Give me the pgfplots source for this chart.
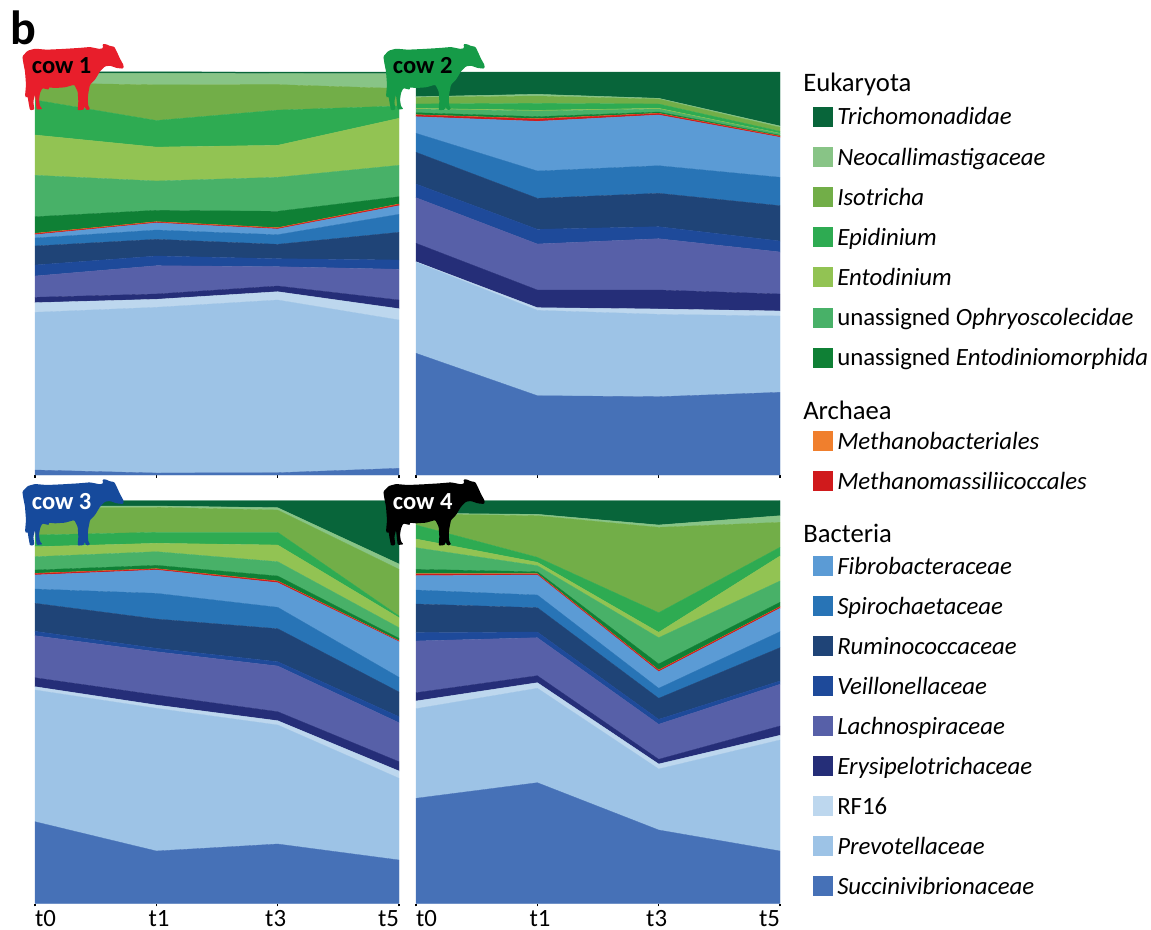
\documentclass[border=0pt]{standalone}
\usepackage{fontspec}
\setmainfont{Carlito}
\usepackage{pgfplots}
\pgfplotsset{compat=1.18}
\definecolor{cTri}{HTML}{08653A}
\definecolor{cNeo}{HTML}{88C486}
\definecolor{cIso}{HTML}{72AE48}
\definecolor{cEpi}{HTML}{2EAB52}
\definecolor{cEnt}{HTML}{92C353}
\definecolor{cOph}{HTML}{48B168}
\definecolor{cEnm}{HTML}{0F8035}
\definecolor{cMBa}{HTML}{F07F2D}
\definecolor{cMMa}{HTML}{D01A1C}
\definecolor{cFib}{HTML}{5B9BD5}
\definecolor{cSpi}{HTML}{2874B6}
\definecolor{cRum}{HTML}{1F4477}
\definecolor{cVei}{HTML}{1E4A9A}
\definecolor{cLac}{HTML}{5760A8}
\definecolor{cEry}{HTML}{252E78}
\definecolor{cRFS}{HTML}{BDD7EE}
\definecolor{cPre}{HTML}{9DC3E6}
\definecolor{cSuc}{HTML}{4671B7}
\definecolor{cowred}{HTML}{E81E2B}
\definecolor{cowgreen}{HTML}{169B48}
\definecolor{cowblue}{HTML}{164A9C}
\newcommand{\lyr}[5]{\addplot[draw=c#1,line width=0.25pt,fill=c#1] coordinates {(0,#2)(1,#3)(2,#4)(3,#5)} \closedcycle;}
\newcommand{\fs}{\fontsize{18.6}{21}\selectfont}
\newcommand{\hfs}{\fontsize{20}{23}\selectfont}
\pgfplotsset{panel/.style={
  scale only axis,width=273pt,height=302.25pt,
  xmin=0,xmax=3,ymin=0,ymax=403,
  stack plots=y,
  axis x line=bottom,axis y line=none,
  x axis line style={draw=none,-},
  xtick={0,1,2,3},
  tick align=outside,
  major tick length=2.2pt,
  tick style={black,line width=0.9pt},
  xtick pos=bottom,
  clip=false,
  x tick label style={font=\fs,inner ysep=0pt,text height=13pt,text depth=0pt,yshift=-1.6pt},
}}
\pgfplotsset{nolabels/.style={xticklabels={}}}
\pgfplotsset{labels/.style={xticklabels={\makebox[0pt][l]{t0},\hspace*{4pt}t1,\hspace*{-3pt}t3,\makebox[0pt][r]{t5}}}}
\newcommand{\cow}[5]{%
 \begin{scope}[shift={(#1,#2)},x=0.25pt,y=-0.25pt]
 \fill[#3,rounded corners=0.8pt] (22,55)--(38,38)--(60,32)--(95,35)--(140,33)--(190,30)--(225,27)--(255,33)--(265,30)--(262,18)--(272,18)--(285,24)--(298,26)--(305,40)--(315,62)--(326,82)--(325,92)--(305,90)--(285,83)--(270,85)--(255,100)--(240,125)--(225,140)--(220,165)--(218,185)--(220,205)--(226,213)--(215,217)--(208,205)--(207,215)--(188,217)--(190,190)--(188,160)--(178,140)--(150,148)--(120,150)--(100,148)--(103,155)--(92,153)--(82,150)--(75,165)--(72,185)--(75,205)--(83,213)--(65,215)--(60,170)--(55,190)--(58,215)--(45,217)--(40,190)--(38,175)--(35,180)--(30,175)--(33,140)--(30,100)--(25,75)--cycle;
 \node[text=#4,font=\bfseries\fontsize{18.4}{20}\selectfont,inner sep=0pt] at (140,84) {#5};
 \end{scope}}
\begin{document}
\begin{tikzpicture}
\path[use as bounding box] (0,0) rectangle (863.25pt,-696.75pt);
% panel values: layer thickness per time point, in parts of 403 (= whole community)
\begin{axis}[panel,nolabels,at={(26.25pt,-356.25pt)},anchor=south west]
\lyr{Suc}{5}{2}{2.3}{6.7}
\lyr{Pre}{157.7}{165.7}{172.7}{148.3}
\lyr{RFS}{9.6}{8}{8.3}{11.3}
\lyr{Ery}{5.4}{5.3}{5.7}{8.7}
\lyr{Lac}{21.3}{28.3}{19.3}{30.7}
\lyr{Vei}{11}{9.7}{8}{9.3}
\lyr{Rum}{19}{16.7}{14.4}{27.7}
\lyr{Spi}{8}{9.3}{9.6}{18}
\lyr{Fib}{3.3}{7.1}{5.7}{8.6}
\lyr{MMa}{1}{0.8}{0.9}{1.3}
\lyr{MBa}{0.4}{0.4}{0.4}{0.4}
\lyr{Enm}{16.6}{11.4}{16.4}{7.3}
\lyr{Oph}{41.4}{29.3}{34}{31.4}
\lyr{Ent}{40.3}{33.9}{32}{47}
\lyr{Epi}{35}{26.6}{35.2}{12.3}
\lyr{Iso}{17}{35.7}{25.5}{17.5}
\lyr{Neo}{9.5}{11.5}{11}{15}
\lyr{Tri}{1.5}{1.5}{1.5}{1.5}
\end{axis}
\begin{axis}[panel,nolabels,at={(312pt,-356.25pt)},anchor=south west]
\lyr{Suc}{121.7}{79.3}{78.3}{82.7}
\lyr{Pre}{91}{85.4}{82.4}{76.3}
\lyr{RFS}{0.6}{2.6}{5.3}{5}
\lyr{Ery}{18.4}{17.7}{19}{17}
\lyr{Lac}{45.6}{46}{51.3}{42}
\lyr{Vei}{13.7}{14.7}{12}{11}
\lyr{Rum}{31.7}{31}{33.4}{35.3}
\lyr{Spi}{19}{27.3}{27.6}{28.4}
\lyr{Fib}{16.6}{49.7}{50.7}{40}
\lyr{MMa}{1.7}{2.3}{1.4}{1}
\lyr{MBa}{0.3}{0.3}{0.3}{0.3}
\lyr{Enm}{2}{2}{1.3}{0.7}
\lyr{Oph}{3.7}{5.7}{3}{1.6}
\lyr{Ent}{0.7}{0.7}{0.7}{0.4}
\lyr{Epi}{4.3}{7}{4.3}{2}
\lyr{Iso}{6.7}{7.3}{5}{4}
\lyr{Neo}{0.6}{1.7}{0.7}{1.3}
\lyr{Tri}{24.7}{22.3}{26.3}{54}
\end{axis}
\begin{axis}[panel,labels,at={(26.25pt,-677.625pt)},anchor=south west]
\lyr{Suc}{81.8}{52.5}{59.5}{43.5}
\lyr{Pre}{131.7}{142.7}{119}{81.7}
\lyr{RFS}{3.3}{3.3}{4.3}{7.3}
\lyr{Ery}{9}{10}{9}{9.3}
\lyr{Lac}{42}{43.3}{45.7}{39}
\lyr{Vei}{4.4}{3.4}{4.3}{6}
\lyr{Rum}{28}{29.3}{33}{24.7}
\lyr{Spi}{14.3}{25.7}{21.4}{14.7}
\lyr{Fib}{14}{23.3}{24.6}{35.6}
\lyr{MMa}{1.4}{1}{1.4}{0.7}
\lyr{MBa}{0.3}{0.3}{0.3}{0.3}
\lyr{Enm}{3.3}{3.4}{5}{2.4}
\lyr{Oph}{13.3}{13.6}{14.3}{10.6}
\lyr{Ent}{10}{8.4}{16.7}{10}
\lyr{Epi}{11.7}{11}{12.7}{1.7}
\lyr{Iso}{27.7}{25}{22.3}{46.7}
\lyr{Neo}{1.3}{1.3}{2.3}{5.3}
\lyr{Tri}{5.5}{5.5}{7.2}{63.5}
\end{axis}
\begin{axis}[panel,labels,at={(312pt,-677.625pt)},anchor=south west]
\lyr{Suc}{105.2}{120.8}{73.5}{52.5}
\lyr{Pre}{89.6}{94.4}{61}{111}
\lyr{RFS}{7.7}{5.6}{5}{4.7}
\lyr{Ery}{8.3}{7}{4.7}{9.3}
\lyr{Lac}{51.7}{38}{35}{41.7}
\lyr{Vei}{8.3}{5.7}{5}{3.3}
\lyr{Rum}{28.7}{24.3}{21}{33.3}
\lyr{Spi}{14}{12.7}{10}{16}
\lyr{Fib}{14.3}{20}{16.6}{23.4}
\lyr{MMa}{1.7}{1}{1.4}{1.3}
\lyr{MBa}{0.3}{0.3}{0.3}{0.3}
\lyr{Enm}{4.4}{2}{6}{4.4}
\lyr{Oph}{21.6}{6}{26.3}{21.3}
\lyr{Ent}{8.7}{3.4}{5.4}{25}
\lyr{Epi}{14}{5}{19.6}{8.7}
\lyr{Iso}{11}{41.6}{85.4}{25}
\lyr{Neo}{0.7}{1.4}{2.3}{6.6}
\lyr{Tri}{12.8}{13.8}{24.5}{15.2}
\end{axis}
\cow{11.25pt}{-28.5pt}{cowred}{black}{cow 1}
\cow{282pt}{-28.5pt}{cowgreen}{black}{cow 2}
\cow{11.25pt}{-355pt}{cowblue}{white}{cow 3}
\cow{282pt}{-355pt}{black}{white}{cow 4}
\begin{scope}[x=0.75pt,y=-0.75pt]
\node[anchor=base west,inner sep=0pt,font=\bfseries\fontsize{36}{40}\selectfont] at (10,44) {b};
\newcommand{\hdr}[2]{\node[anchor=mid west,inner sep=0pt,font=\hfs] at (803,#1+5) {#2};}
\newcommand{\ent}[3]{\fill[c#2] (813,#1-10) rectangle (832.5,#1+10);
  \node[anchor=mid west,inner sep=0pt,font=\fs] at (837,#1+5) {#3};}
\hdr{83}{Eukaryota}
\ent{116.5}{Tri}{\textit{Trichomonadidae}}
\ent{157}{Neo}{\textit{Neocallimastigaceae}}
\ent{197}{Iso}{\textit{Isotricha}}
\ent{237}{Epi}{\textit{Epidinium}}
\ent{277}{Ent}{\textit{Entodinium}}
\ent{317.5}{Oph}{unassigned \textit{Ophryoscolecidae}}
\ent{357.5}{Enm}{unassigned \textit{Entodiniomorphida}}
\hdr{411.5}{Archaea}
\ent{441}{MBa}{\textit{Methanobacteriales}}
\ent{481}{MMa}{\textit{Methanomassiliicoccales}}
\hdr{534}{Bacteria}
\ent{566}{Fib}{\textit{Fibrobacteraceae}}
\ent{606}{Spi}{\textit{Spirochaetaceae}}
\ent{646}{Rum}{\textit{Ruminococcaceae}}
\ent{686}{Vei}{\textit{Veillonellaceae}}
\ent{726}{Lac}{\textit{Lachnospiraceae}}
\ent{766}{Ery}{\textit{Erysipelotrichaceae}}
\ent{806}{RFS}{RF16}
\ent{846}{Pre}{\textit{Prevotellaceae}}
\ent{886}{Suc}{\textit{Succinivibrionaceae}}
\end{scope}
\end{tikzpicture}
\end{document}
